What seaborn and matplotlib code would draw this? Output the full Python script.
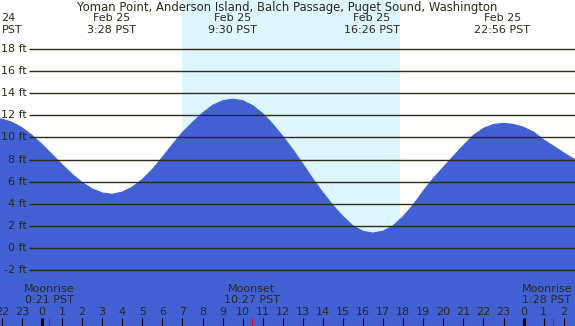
import matplotlib
matplotlib.use("Agg")
import matplotlib.pyplot as plt
import seaborn as sns
import pandas as pd

# ==============================
# DATA (hours from midnight Feb 25, PST)
# ==============================
tide_hours = [-2.5, -2.0, -1.5, -1.0, -0.5, 0.0, 0.5, 1.0, 1.5, 2.0, 2.5, 3.0, 3.5,
              4.0, 4.5, 5.0, 5.5, 6.0, 6.5, 7.0, 7.5, 8.0, 8.5, 9.0, 9.5,
              10.0, 10.5, 11.0, 11.5, 12.0, 12.5, 13.0, 13.5, 14.0, 14.5, 15.0, 15.5,
              16.0, 16.5, 17.0, 17.5, 18.0, 18.5, 19.0, 19.5, 20.0, 20.5, 21.0, 21.5,
              22.0, 22.5, 23.0, 23.5, 24.0, 24.5, 25.0, 25.5, 26.0, 26.5, 27.0]
tide_ft = [11.70, 11.66, 11.38, 10.89, 10.20, 9.37, 8.47, 7.55, 6.68, 5.93, 5.35, 4.98, 4.86,
           5.05, 5.50, 6.20, 7.10, 8.20, 9.35, 10.45, 11.35, 12.20, 12.90, 13.32, 13.47,
           13.33, 12.88, 12.16, 11.20, 10.10, 8.90, 7.60, 6.25, 5.00, 3.85, 2.85, 2.00,
           1.50, 1.35, 1.52, 2.00, 2.85, 3.90, 5.15, 6.30, 7.30, 8.30, 9.28, 10.20,
           10.82, 11.18, 11.27, 11.18, 10.92, 10.48, 9.78, 9.20, 8.60, 8.05, 7.50]

# extremes (header labels)
extreme_hours = [3.47, 9.50, 16.43, 22.93]
extreme_labels = ["Feb 25\n3:28 PST", "Feb 25\n9:30 PST", "Feb 25\n16:26 PST", "Feb 25\n22:56 PST"]

# moon events
moon_hours = [0.35, 10.45, 25.47]
moon_labels = ["Moonrise\n0:21 PST", "Moonset\n10:27 PST", "Moonrise\n1:28 PST"]

sunrise, sunset = 6.98, 17.84
ft_levels = list(range(-2, 19, 2))
hour_ticks = list(range(-2, 27))

TITLE = "Yoman Point, Anderson Island, Balch Passage, Puget Sound, Washington"

# ==============================
# STYLE
# ==============================
NIGHT = "#b0c4de"
DAY = "#ddf6ff"
WATER = "#4060d4"
INK = "#2b2b18"

sns.set_theme(style="white")
plt.rcParams["font.family"] = ["DejaVu Sans"]

XMIN, XMAX = -2.09, 26.56
YMIN, YMAX = -7.06, 22.44

fig = plt.figure(figsize=(5.75, 3.26), dpi=100)
ax = fig.add_axes([0, 0, 1, 1])
ax.set_facecolor(NIGHT)
ax.axvspan(sunrise, sunset, color=DAY, zorder=0, lw=0)

df = pd.DataFrame({"hour": tide_hours, "ft": tide_ft})
ax.fill_between(df["hour"], df["ft"], YMIN - 5, color=WATER, lw=0, zorder=1)
sns.lineplot(data=df, x="hour", y="ft", ax=ax, color=WATER, lw=0.8, zorder=1)

# grid lines + labels
ax.hlines(ft_levels, -0.65, XMAX + 1, colors=INK, lw=1.0, zorder=2)
for lv in ft_levels:
    ax.text(-0.76, lv, f"{lv} ft", ha="right", va="center", fontsize=8, color=INK, zorder=3)

# title and extremes
ax.text(12.23, 21.72, TITLE, ha="center", va="center", fontsize=8.4, color=INK)
ax.text(-2.02, 20.27, "24\nPST", ha="left", va="center", fontsize=8, color=INK, linespacing=1.2)
for h, lab in zip(extreme_hours, extreme_labels):
    ax.text(h, 20.27, lab, ha="center", va="center", fontsize=8, color=INK, linespacing=1.2)

# moon events (last label pushed inside the right edge)
for h, lab in zip(moon_hours, moon_labels):
    ax.text(min(h, 25.16), -4.21, lab, ha="center", va="center", fontsize=8, color=INK,
            linespacing=1.1)
    ax.vlines(h, YMIN, -6.36, colors="red", lw=0.8, zorder=4)

# hour ticks
for h in hour_ticks:
    ax.vlines(h, YMIN, -6.36, colors="black", lw=2.2 if h % 24 == 0 else 0.8, zorder=3)
    ax.text(h, -5.76, str(h % 24), ha="center", va="center", fontsize=8, color=INK, zorder=3)

ax.set_xlim(XMIN, XMAX)
ax.set_ylim(YMIN, YMAX)
ax.set_axis_off()

fig.savefig("out.png", dpi=100)
